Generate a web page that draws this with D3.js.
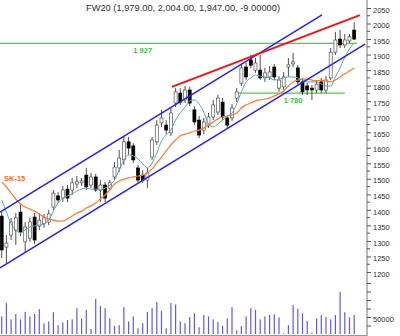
<!DOCTYPE html>
<html>
<head>
<meta charset="utf-8">
<script src="https://cdn.jsdelivr.net/npm/d3@7"></script>
<style>
  body { margin: 0; background: #fff; }
  svg { display: block; font-family: "Liberation Sans", Arial, sans-serif; }
</style>
</head>
<body>
<svg id="chart" width="400" height="336"></svg>
<script>
'use strict';

const title = "FW20 (1,979.00, 2,004.00, 1,947.00, -9.00000)";

// daily candles
const open  = [1380,1280,1319,1335,1393,1297,1309,1377,1348,1355,1361,1409,1445,1438,1467,1464,1483,1487,1512,1480,
               1506,1464,1480,1470,1506,1535,1561,1619,1606,1535,1512,1496,1570,1619,1680,1673,1648,1744,1776,1754,
               1786,1722,1689,1657,1673,1699,1715,1747,1696,1696,1760,1808,1860,1883,1850,1850,1825,1828,1860,1792,
               1796,1860,1870,1857,1812,1799,1792,1786,1812,1786,1825,1908,1950,1931,1944,1979];
const high  = [1393,1319,1374,1390,1422,1361,1374,1390,1390,1387,1400,1464,1458,1477,1480,1503,1509,1503,1535,1519,
               1516,1496,1490,1496,1554,1593,1635,1635,1615,1545,1528,1535,1635,1689,1722,1689,1728,1792,1792,1799,
               1796,1734,1702,1696,1712,1754,1770,1760,1705,1741,1792,1870,1873,1899,1889,1899,1857,1863,1870,1831,
               1844,1889,1905,1867,1825,1809,1802,1818,1825,1831,1921,1973,1979,1966,1966,2004];
const low   = [1245,1229,1303,1287,1316,1264,1297,1290,1335,1342,1351,1400,1422,1425,1425,1448,1470,1477,1464,1470,
               1458,1425,1425,1464,1496,1522,1545,1577,1551,1487,1487,1470,1561,1609,1667,1644,1638,1731,1738,1744,
               1734,1673,1631,1644,1664,1689,1705,1689,1664,1686,1747,1799,1818,1857,1841,1818,1812,1818,1818,1780,
               1786,1828,1860,1802,1770,1770,1754,1776,1776,1776,1818,1899,1921,1921,1937,1947];
const close = [1271,1293,1361,1374,1329,1345,1361,1303,1367,1374,1387,1454,1432,1464,1438,1487,1490,1493,1474,1506,
               1464,1480,1438,1487,1538,1567,1619,1599,1561,1496,1496,1519,1625,1673,1696,1657,1712,1780,1747,1786,
               1744,1683,1641,1683,1699,1738,1760,1699,1673,1728,1780,1857,1828,1866,1873,1825,1841,1844,1828,1818,
               1828,1867,1876,1812,1780,1786,1786,1805,1786,1818,1908,1947,1931,1947,1957,1950];
const volume = [52000,91000,43000,59000,43000,65000,52000,59000,73000,31000,37000,64000,26000,34000,41000,43000,76000,46000,71000,15000,
                103000,82000,76000,46000,24000,26000,79000,37000,52000,17000,32000,65000,76000,94000,68000,17000,91000,87000,37000,32000,
                50000,61000,20000,56000,52000,43000,35000,24000,46000,79000,11000,23000,52000,76000,71000,43000,52000,56000,58000,49000,
                2000,26000,85000,74000,61000,38000,4000,46000,56000,50000,43000,56000,124000,64000,49000,56000];
// short (teal) and SK-15 (orange) averages as drawn
const maShort = [1432,1393,1355,1335,1326,1335,1345,1348,1351,1355,1367,1396,1422,1438,1445,1451,1461,1467,1470,1467,
                 1467,1464,1470,1480,1496,1528,1561,1577,1574,1564,1548,1535,1551,1583,1622,1641,1657,1689,1712,1731,
                 1751,1754,1741,1715,1677,1667,1677,1689,1702,1712,1741,1780,1812,1825,1834,1831,1828,1825,1818,1821,
                 1825,1828,1828,1825,1818,1812,1812,1812,1805,1799,1799,1828,1857,1892,1918,1937];
const ma15 = [1490,1474,1454,1435,1419,1409,1403,1396,1387,1377,1371,1367,1364,1364,1371,1380,1390,1396,1406,1413,
              1422,1435,1448,1464,1483,1493,1499,1503,1506,1509,1512,1519,1532,1551,1570,1590,1609,1625,1638,1644,
              1648,1654,1657,1664,1673,1683,1693,1699,1702,1706,1712,1728,1738,1744,1751,1754,1757,1760,1767,1773,
              1783,1799,1812,1818,1821,1821,1818,1815,1818,1815,1812,1818,1828,1838,1847,1857];

// drawn trend lines: [candle index, price]
const channelUpper = [[-0.36, 1393], [68.15, 2028]];
const channelLower = [[-0.36, 1213], [77.3, 1934]];
const resistance   = [[36.2, 1796], [76.2, 2027]];
const levels = [
  { label: "1 927", value: 1936, from: -0.36, to: 75.6, at: 28 },
  { label: "1 780", value: 1776, from: 50.1, to: 73, at: 60 }
];

const priceTicks = d3.range(1200, 2051, 50);
const priceMinor = d3.range(1200, 2051, 25);
const volTicks = d3.range(0, 150001, 25000);

const width = 400, height = 336;
const svg = d3.select("#chart");

svg.append("rect").attr("width", width).attr("height", height).attr("fill", "#fff");

let x = d3.scaleLinear().domain([0, open.length - 1]).range([1.7, 354.2]);
let y = d3.scaleLinear().domain([1200, 2050]).range([272, 8]);
let yv = d3.scaleLinear().domain([0, 50000]).range([334, 317]);

// volume
svg.append("g").selectAll("rect")
  .data(volume)
  .enter().append("rect")
    .attr("x", (d, i) => x(i) - 0.6)
    .attr("width", 1.2)
    .attr("y", d => yv(d))
    .attr("height", d => yv(0) - yv(d))
    .attr("fill", "#5b5bf2");

// horizontal levels
let lv = svg.append("g");
levels.forEach(l => {
  lv.append("line")
    .attr("x1", x(l.from)).attr("x2", x(l.to))
    .attr("y1", y(l.value)).attr("y2", y(l.value))
    .attr("stroke", "#4ccc4c").attr("stroke-width", 1.3);
  lv.append("text")
    .attr("x", x(l.at)).attr("y", y(l.value) + 10)
    .attr("font-size", 7.5).attr("font-weight", "bold")
    .attr("fill", "#44bb44")
    .text(l.label);
});

// candles
let cg = svg.append("g");
open.forEach((o, i) => {
  let c = close[i], up = c >= o;
  cg.append("line")
    .attr("x1", x(i)).attr("x2", x(i))
    .attr("y1", y(high[i])).attr("y2", y(low[i]))
    .attr("stroke", "#222").attr("stroke-width", 0.8);
  cg.append("rect")
    .attr("x", x(i) - 1.5).attr("width", 3)
    .attr("y", y(Math.max(o, c)))
    .attr("height", Math.max(1, Math.abs(y(o) - y(c))))
    .attr("fill", up ? "#fff" : "#000")
    .attr("stroke", up ? "#555" : "#000").attr("stroke-width", 0.7);
});

// moving averages
let line = d3.line()
  .x((d, i) => x(i))
  .y(d => y(d))
  .curve(d3.curveMonotoneX);

svg.append("path").attr("d", line(ma15))
  .attr("fill", "none").attr("stroke", "#ff7a30").attr("stroke-width", 1.2);
svg.append("path").attr("d", line(maShort))
  .attr("fill", "none").attr("stroke", "#5fa9a9").attr("stroke-width", 1);

// trend lines
let seg = d3.line().x(d => x(d[0])).y(d => y(d[1]));
svg.append("path").attr("d", seg(channelUpper))
  .attr("stroke", "#2323ee").attr("stroke-width", 1.5).attr("fill", "none");
svg.append("path").attr("d", seg(channelLower))
  .attr("stroke", "#2323ee").attr("stroke-width", 1.5).attr("fill", "none");
svg.append("path").attr("d", seg(resistance))
  .attr("stroke", "#ee1515").attr("stroke-width", 2).attr("fill", "none");

svg.append("text")
  .attr("x", 4).attr("y", 181)
  .attr("font-size", 7.5).attr("font-weight", "bold")
  .attr("fill", "#ff6a20")
  .text("SK-15");

// title
svg.append("text")
  .attr("x", 86).attr("y", 11)
  .attr("font-size", 9).attr("fill", "#333")
  .attr("textLength", 194).attr("lengthAdjust", "spacingAndGlyphs")
  .text(title);

// right axis
let ax = 367;
svg.append("line")
  .attr("x1", ax).attr("x2", ax).attr("y1", 0).attr("y2", height)
  .attr("stroke", "#777").attr("stroke-width", 1);
svg.append("line")
  .attr("x1", 0).attr("x2", ax).attr("y1", 335.5).attr("y2", 335.5)
  .attr("stroke", "#999").attr("stroke-width", 1);

let axis = svg.append("g").attr("transform", "translate(" + ax + ",0)")
  .call(d3.axisRight(y).tickValues(priceTicks).tickSize(4).tickFormat(d3.format("d")));
axis.select(".domain").remove();
axis.selectAll("line").attr("stroke", "#555");
axis.selectAll("text").attr("font-size", 7.5).attr("fill", "#333")
  .attr("font-family", "Liberation Sans, Arial, sans-serif").attr("x", 6).attr("dy", "0.55em");

svg.append("g").selectAll("line")
  .data(priceMinor.filter(d => d % 50 !== 0))
  .enter().append("line")
    .attr("x1", ax).attr("x2", ax + 3)
    .attr("y1", d => y(d)).attr("y2", d => y(d))
    .attr("stroke", "#555");

let vaxis = svg.append("g").attr("transform", "translate(" + ax + ",0)")
  .call(d3.axisRight(yv).tickValues(volTicks.slice(1)).tickSize(4)
    .tickFormat(d => d === 50000 ? d : ""));
vaxis.select(".domain").remove();
vaxis.selectAll("line").attr("stroke", "#555");
vaxis.selectAll("text").attr("font-size", 7.5).attr("fill", "#333")
  .attr("font-family", "Liberation Sans, Arial, sans-serif").attr("x", 6).attr("dy", "0.55em");
</script>
</body>
</html>
